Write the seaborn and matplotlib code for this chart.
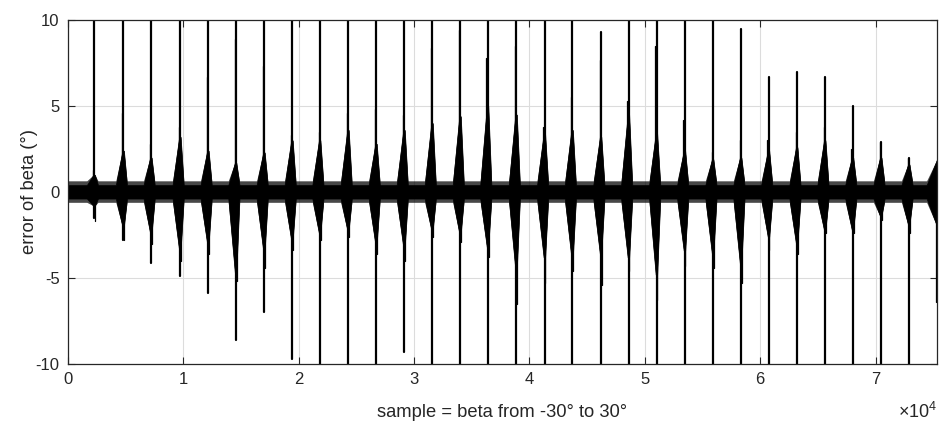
import matplotlib
matplotlib.use("Agg")
import matplotlib.pyplot as plt
import numpy as np
import pandas as pd
import seaborn as sns

# ---------------- data ----------------
x_max = 75330
spike_x = [2281, 4796, 7199, 9714, 12142, 14545, 17000, 19428, 21830, 24284,
           26713, 29141, 31570, 33998, 36383, 38855, 41310, 43712, 46184, 48595,
           51023, 53452, 55898, 58326, 60737, 63183, 65611, 68023, 70469, 72897]
# extreme values of the sharp spike at each wrap point (beyond +/-10 = off scale)
spike_hi = [40, 40, 40, 40, 40, 40, 40, 40, 40, 40,
            40, 40, 40, 40, 40, 40, 40, 40, 9.3, 40,
            40, 40, 40, 9.5, 6.7, 7.0, 6.7, 5.0, 2.9, 2.0]
spike_lo = [-1.5, -2.8, -4.1, -4.9, -5.9, -8.6, -7.0, -9.7, -40, -40,
            -40, -9.3, -40, -40, -40, -40, -40, -40, -40, -40,
            -40, -40, -40, -40, -40, -40, -40, -40, -40, -40]
# thin excursions beside each spike
whisker_hi = [1.3, 4.6, 2.8, 3.8, 6.7, 8.9, 7.3, 3.3, 3.5, 4.6,
              4.8, 4.5, 8.4, 9.4, 7.8, 8.5, 3.8, 5.5, 7.7, 5.3,
              8.5, 4.2, 2.3, 3.0, 3.0, 3.5, 3.8, 2.5, 2.9, 2.0]
whisker_lo = [-1.7, -2.8, -3.0, -4.0, -3.6, -5.2, -4.4, -3.4, -2.8, -2.6,
              -3.6, -4.0, -2.6, -2.9, -3.8, -6.5, -5.3, -4.6, -5.4, -4.6,
              -6.3, -4.3, -4.4, -5.3, -3.4, -3.6, -2.4, -2.4, -1.6, -2.4]
# dense noise bulge around each spike
bulge_hi = [1.0, 2.4, 2.0, 3.2, 2.4, 1.7, 2.3, 3.0, 3.0, 3.6,
            2.8, 3.6, 4.0, 4.4, 5.0, 4.5, 3.4, 3.6, 3.2, 4.5,
            3.4, 2.4, 1.9, 2.0, 2.4, 2.6, 3.0, 2.0, 2.0, 1.6]
bulge_lo = [-0.8, -2.0, -2.4, -3.4, -3.0, -4.7, -3.4, -2.8, -2.4, -2.2,
            -3.0, -3.2, -2.2, -2.4, -3.2, -4.5, -3.8, -3.8, -3.6, -3.8,
            -4.8, -3.4, -3.6, -4.2, -2.6, -3.0, -2.2, -2.2, -1.4, -1.9]
# baseline noise band: solid core and hairy outer extent
core_hi, core_lo = 0.4, -0.38
hair_hi, hair_lo = 0.65, -0.6
# tail at the right edge
end_hi, end_lo, end_drop = 1.9, -2.0, -6.4

# ---------------- figure ----------------
sns.set_theme(style="white")
plt.rcParams["font.family"] = ["Liberation Sans", "DejaVu Sans"]
plt.rcParams["mathtext.fontset"] = "custom"
plt.rcParams["mathtext.rm"] = "Liberation Sans"
plt.rcParams["mathtext.it"] = "Liberation Sans"

fig = plt.figure(figsize=(9.42, 4.22), dpi=100)
ax = fig.add_axes([68 / 942, 1 - 364 / 422, (937 - 68) / 942, (364 - 20) / 422])


def envelope(b_hi, b_lo):
    ex, eh, el = [0], [b_hi], [b_lo]
    for s, bh, bl in zip(spike_x, bulge_hi, bulge_lo):
        ex += [s - 650, s - 80, s + 50, s + 320]
        eh += [b_hi, bh, bh, b_hi]
        el += [b_lo, bl, bl, b_lo]
    ex += [x_max - 900, x_max]
    eh += [b_hi, end_hi]
    el += [b_lo, end_lo]
    return ex, eh, el


ex, eh, el = envelope(hair_hi, hair_lo)
ax.fill_between(ex, el, eh, color="black", alpha=0.72, linewidth=0)
ex, eh, el = envelope(core_hi, core_lo)
ax.fill_between(ex, el, eh, color="black", linewidth=0.5, edgecolor="black")

# spikes and whiskers as line segments via seaborn
rows = []
for i, s in enumerate(spike_x):
    rows += [dict(x=s, y=spike_lo[i], u=f"s{i}", w="spike"),
             dict(x=s, y=spike_hi[i], u=f"s{i}", w="spike"),
             dict(x=s - 110, y=0, u=f"h{i}", w="whisk"),
             dict(x=s - 110, y=whisker_hi[i], u=f"h{i}", w="whisk"),
             dict(x=s + 70, y=0, u=f"l{i}", w="whisk"),
             dict(x=s + 70, y=whisker_lo[i], u=f"l{i}", w="whisk")]
rows += [dict(x=x_max - 60, y=0, u="end", w="whisk"),
         dict(x=x_max - 60, y=end_drop, u="end", w="whisk")]
df = pd.DataFrame(rows)
sns.lineplot(data=df[df.w == "spike"], x="x", y="y", units="u", estimator=None,
             sort=False, color="black", linewidth=1.6, ax=ax)
sns.lineplot(data=df[df.w == "whisk"], x="x", y="y", units="u", estimator=None,
             sort=False, color="black", linewidth=0.9, ax=ax)

# ---------------- axes styling (MATLAB look) ----------------
ax.set_xlim(0, x_max)
ax.set_ylim(-10, 10)
ax.set_xticks([0, 10000, 20000, 30000, 40000, 50000, 60000, 70000])
ax.set_xticklabels(["0", "1", "2", "3", "4", "5", "6", "7"])
ax.set_yticks([-10, -5, 0, 5, 10])
ax.set_yticklabels(["-10", "-5", "0", "5", "10"])
ax.grid(True, color="#dcdcdc", linewidth=0.8)
ax.set_axisbelow(True)
for sp in ax.spines.values():
    sp.set_color("#262626")
    sp.set_linewidth(0.9)
ax.tick_params(direction="in", length=5, width=0.8, colors="#262626",
               labelsize=12, top=True, right=True, bottom=True, left=True,
               labelcolor="#262626", pad=6)
ax.set_xlabel("sample = beta from -30° to 30°", fontsize=13.2, color="#262626", labelpad=12)
ax.set_ylabel("error of beta (°)", fontsize=13.2, color="#262626", labelpad=-2)
ax.text(1.0, -0.14, r"$\times\mathregular{10^{4}}$", transform=ax.transAxes,
        ha="right", va="center", fontsize=13, color="#262626")

fig.savefig("out.png", dpi=100)
